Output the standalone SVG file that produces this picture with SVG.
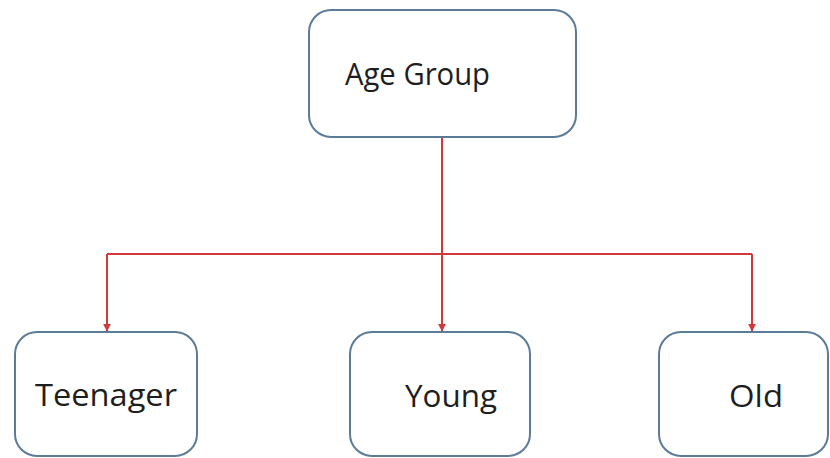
<svg xmlns="http://www.w3.org/2000/svg" width="830" height="458" viewBox="0 0 830 458">
<style>
.box{fill:#fff;stroke:#5b7b98;stroke-width:2}
.lbl{font-family:"Open Sans","Liberation Sans",sans-serif;font-size:31px;fill:#1e1e1e}
.con{fill:none;stroke:#d03a3a;stroke-width:2}
</style>
<defs>
<marker id="ah" viewBox="0 0 10 10" refX="9" refY="5" markerWidth="4" markerHeight="4" orient="auto">
<path d="M0,0 L10,5 L0,10 z" fill="#d03a3a"/>
</marker>
</defs>
<rect width="830" height="458" fill="#fff"/>
<g id="connectors">
<path class="con" d="M442,137 V254"/>
<path class="con" d="M107,254 H752"/>
<path class="con" d="M107,254 V331" marker-end="url(#ah)"/>
<path class="con" d="M442,254 V331" marker-end="url(#ah)"/>
<path class="con" d="M752,254 V331" marker-end="url(#ah)"/>
</g>
<g id="age-group">
<rect class="box" x="309" y="10" width="267" height="127" rx="22"/>
<text class="lbl" x="345" y="85" textLength="145" lengthAdjust="spacingAndGlyphs">Age Group</text>
</g>
<g id="teenager">
<rect class="box" x="15" y="332" width="182" height="124" rx="22"/>
<text class="lbl" x="35" y="406" textLength="142" lengthAdjust="spacingAndGlyphs">Teenager</text>
</g>
<g id="young">
<rect class="box" x="350" y="332" width="180" height="124" rx="22"/>
<text class="lbl" x="405" y="407" textLength="92" lengthAdjust="spacingAndGlyphs">Young</text>
</g>
<g id="old">
<rect class="box" x="659" y="332" width="169" height="124" rx="22"/>
<text class="lbl" x="729" y="407" textLength="54" lengthAdjust="spacingAndGlyphs">Old</text>
</g>
</svg>
